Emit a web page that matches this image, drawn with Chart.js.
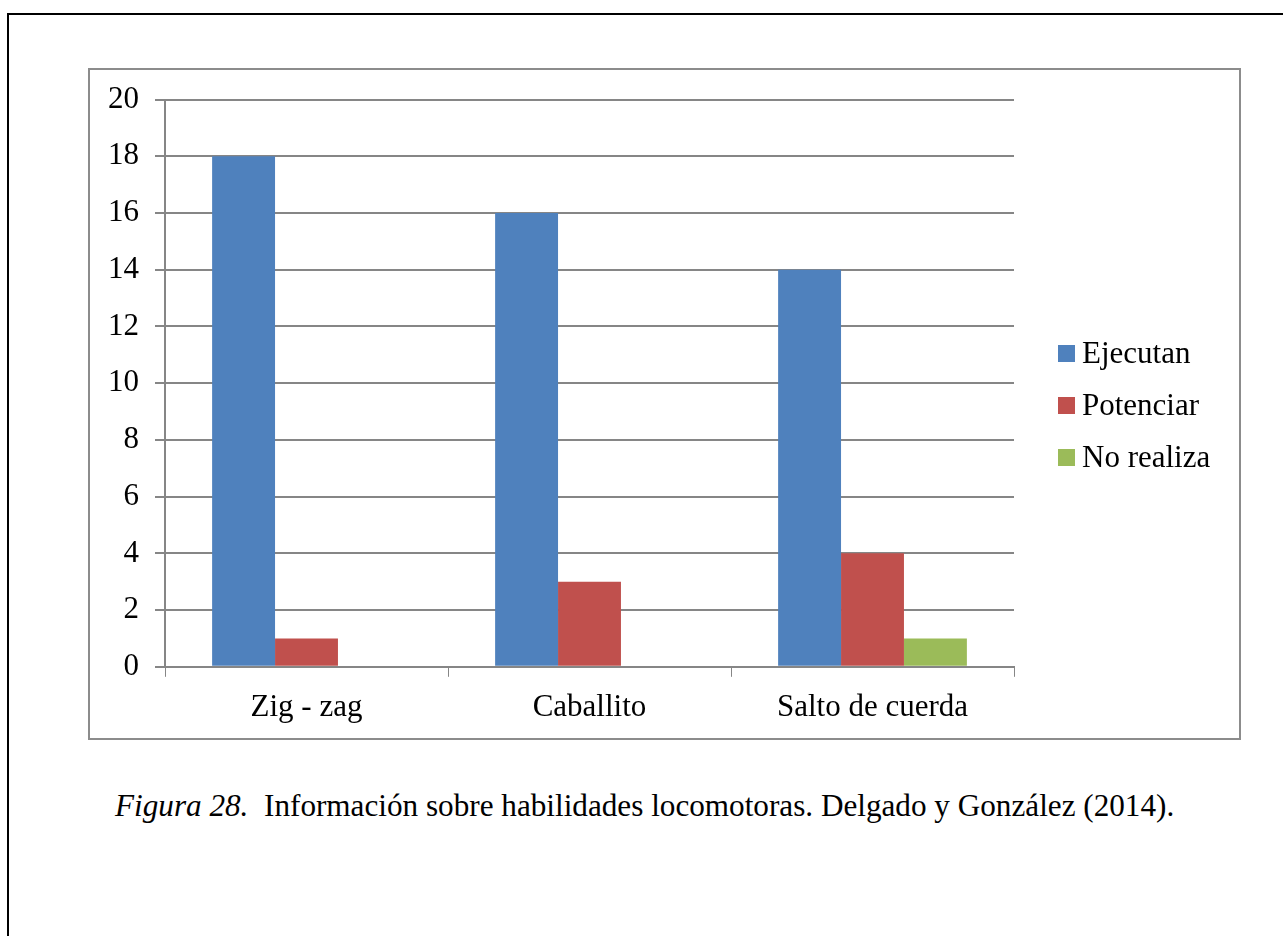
<!DOCTYPE html>
<html>
<head>
<meta charset="utf-8">
<script src="https://cdn.jsdelivr.net/npm/chart.js@4"></script>
<style>
  html, body { margin: 0; padding: 0; background: #fff; }
  body { width: 1283px; height: 936px; position: relative; overflow: hidden; }
  #frame { position: absolute; left: 7px; top: 13px; width: 1300px; height: 950px;
           border-top: 2px solid #000; border-left: 2px solid #000; }
  #box { position: absolute; left: 88px; top: 68px; width: 1153px; height: 672px;
         box-sizing: border-box; border: 2px solid #8c8c8c; background: #fff; }
  #chart { position: absolute; left: 90px; top: 65px; display: block; }
  #caption { position: absolute; left: 115px; top: 788px; white-space: pre;
             font-family: "Liberation Serif", "Times New Roman", serif; font-size: 31.2px; color: #000; }
</style>
</head>
<body>
<div id="frame"></div>
<div id="box"></div>
<canvas id="chart" width="1149" height="673"></canvas>
<div id="caption"><i>Figura 28.</i>  Información sobre habilidades locomotoras. Delgado y González (2014).</div>
<script>
const categories = ['Zig - zag', 'Caballito', 'Salto de cuerda'];
const ejecutan = [18, 16, 14];
const potenciar = [1, 3, 4];
const noRealiza = [0, 0, 1];
const yTicks = [0, 2, 4, 6, 8, 10, 12, 14, 16, 18, 20];

const serif = "'Liberation Serif', 'Times New Roman', serif";
const gray = '#868686';

// legend to the right of the plot, squares close to the text like the original
const sideLegend = {
    id: 'sideLegend',
    afterDraw(chart) {
        let ctx = chart.ctx;
        let area = chart.chartArea;
        let sets = chart.data.datasets;
        let x = area.right + 44;
        let y0 = chart.height / 2 - 52 * (sets.length - 1) / 2 + 4;
        ctx.save();
        ctx.font = '31px ' + serif;
        ctx.textBaseline = 'middle';
        ctx.textAlign = 'left';
        sets.forEach((ds, i) => {
            let y = y0 + 52 * i;
            ctx.fillStyle = ds.backgroundColor;
            ctx.fillRect(x, y - 8.5, 17, 17);
            ctx.fillStyle = '#000';
            ctx.fillText(ds.label, x + 24, y + 1);
        });
        ctx.restore();
    }
};

let element = document.getElementById('chart');
let chart = new Chart(element, {
    type: 'bar',
    data: {
        labels: categories,
        datasets: [
            {label: 'Ejecutan', data: ejecutan, backgroundColor: '#4F81BD'},
            {label: 'Potenciar', data: potenciar, backgroundColor: '#C0504D'},
            {label: 'No realiza', data: noRealiza, backgroundColor: '#9BBB59'}
        ]
    },
    options: {
        responsive: false,
        animation: false,
        categoryPercentage: 0.667,
        barPercentage: 1,
        layout: {padding: {left: 2, top: 0, right: 225, bottom: 0}},
        plugins: {
            tooltip: {enabled: false},
            legend: {display: false}
        },
        scales: {
            x: {
                grid: {drawOnChartArea: false, drawTicks: true, tickLength: 10, color: gray, offset: true},
                border: {color: gray, width: 2},
                ticks: {color: '#000', padding: 12, font: {family: serif, size: 31}}
            },
            y: {
                min: 0, max: 20,
                afterBuildTicks(scale) { scale.ticks = yTicks.map(v => ({value: v})); },
                grid: {color: gray, lineWidth: 2, tickLength: 10},
                border: {color: gray, width: 2},
                ticks: {color: '#000', padding: 16, font: {family: serif, size: 31}}
            }
        }
    },
    plugins: [sideLegend]
});
</script>
</body>
</html>
